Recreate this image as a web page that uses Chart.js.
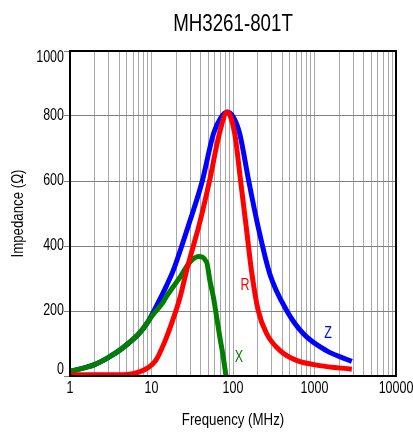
<!DOCTYPE html>
<html>
<head>
<meta charset="utf-8">
<script src="https://cdn.jsdelivr.net/npm/chart.js@4.4.1/dist/chart.umd.min.js"></script>
<style>
  html, body { margin: 0; padding: 0; background: #fff; }
</style>
</head>
<body>
<canvas id="impChart" width="413" height="432"></canvas>
<script>
const FONT = '"Liberation Sans", Arial, sans-serif';
const SQUEEZE = 0.78; // the original uses a condensed face

const chartTitle = 'MH3261-801T';
const xAxisTitle = 'Frequency (MHz)';
const yAxisTitle = 'Impedance (Ω)';

// Z curve (MHz / ohm)
const zFreq = [1, 2, 3, 4, 5, 7, 9, 10, 13.5, 15.3, 18.5, 23.5, 28.3, 42, 57.5, 71, 85, 102, 121, 156, 203, 283, 457, 731, 1400, 2870];
const zValues = [14, 35, 58, 78, 97, 130, 166, 186, 250, 278, 325, 400, 462, 600, 745, 795, 812, 795, 745, 600, 460, 314, 201, 130, 78, 45];

// R curve
const rFreq = [1, 3, 5, 7, 9, 11.3, 14.5, 18, 22.4, 27, 32.6, 38, 51.5, 68, 85, 105, 124, 147, 169, 204, 259, 378, 600, 1160, 2870];
const rValues = [4, 4, 5, 12, 25, 48, 105, 168, 242, 325, 400, 460, 600, 745, 812, 745, 600, 448, 322, 201, 130, 78, 48, 32, 21];

// X curve
const xFreq = [1, 2, 3, 4, 5, 6, 7, 8, 9, 10, 13.7, 15.3, 22.4, 29.5, 37.6, 47.5, 52, 57.5, 63, 69, 76, 82];
const xValues = [14, 35, 58, 78, 97, 114, 130, 148, 166, 183, 225, 245, 304, 350, 368, 350, 294, 242, 181, 119, 58, 0];

// axes
const xDecades = [1, 10, 100, 1000, 10000];
const xTickLabels = ['1', '10', '100', '1000', '10000'];
const xMinorSteps = [1, 2, 3, 4, 5, 6, 7, 8, 9];
const yTicks = [0, 200, 400, 600, 800, 1000];
const yTickLabels = ['0', '200', '400', '600', '800', '1000'];

// curve names written on the plot
const curveNames = ['Z', 'R', 'X'];
const curveNameFreq = [1465, 140, 118];
const curveNameImp = [131, 278, 57];
const curveColors = ['#0000ff', '#ff0000', '#007f00'];

function toPoints(fs, vs) {
  return fs.map((f, i) => ({ x: f, y: vs[i] }));
}

// narrow text: squeeze horizontally around the anchor point
function narrowText(ctx, text, x, y, size, color, align, rotate) {
  ctx.save();
  ctx.translate(x, y);
  if (rotate) ctx.rotate(rotate);
  ctx.scale(SQUEEZE, 1);
  ctx.font = size + 'px ' + FONT;
  ctx.fillStyle = color;
  ctx.textAlign = align;
  ctx.fillText(text, 0, 0);
  ctx.restore();
}

// frame, all labels and curve names
const extrasPlugin = {
  id: 'extras',
  afterDraw(chart) {
    const { ctx, chartArea: a, scales } = chart;
    const midX = (a.left + a.right) / 2;
    const midY = (a.top + a.bottom) / 2;
    ctx.save();
    ctx.strokeStyle = '#000';
    ctx.lineWidth = 2;
    ctx.strokeRect(a.left, a.top, a.right - a.left, a.bottom - a.top);

    ctx.textBaseline = 'alphabetic';
    narrowText(ctx, chartTitle, midX, 31, 24, '#000', 'center');

    ctx.textBaseline = 'middle';
    yTicks.forEach((v, i) => {
      let y = scales.y.getPixelForValue(v);
      y = Math.min(Math.max(y, a.top + 7), a.bottom - 6);
      narrowText(ctx, yTickLabels[i], a.left - 6, y, 16, '#000', 'right');
    });

    ctx.textBaseline = 'alphabetic';
    xDecades.forEach((v, i) => {
      narrowText(ctx, xTickLabels[i], scales.x.getPixelForValue(v), a.bottom + 17, 16, '#000', 'center');
    });
    narrowText(ctx, xAxisTitle, midX, a.bottom + 49, 17, '#000', 'center');

    ctx.textBaseline = 'middle';
    narrowText(ctx, yAxisTitle, 18, midY, 17, '#000', 'center', -Math.PI / 2);

    curveNames.forEach((n, i) => {
      narrowText(ctx, n, scales.x.getPixelForValue(curveNameFreq[i]), scales.y.getPixelForValue(curveNameImp[i]), 16, curveColors[i], 'center');
    });
    ctx.restore();
  }
};

const ds = (label, pts, color) => ({
  label: label,
  data: pts,
  showLine: true,
  borderColor: color,
  backgroundColor: color,
  borderWidth: 5,
  pointRadius: 0,
  cubicInterpolationMode: 'monotone',
  fill: false
});

new Chart(document.getElementById('impChart'), {
  type: 'scatter',
  data: {
    datasets: [
      ds('R', toPoints(rFreq, rValues), curveColors[1]),
      ds('X', toPoints(xFreq, xValues), curveColors[2]),
      ds('Z', toPoints(zFreq, zValues), curveColors[0])
    ]
  },
  options: {
    responsive: false,
    animation: false,
    layout: { padding: { left: 0, right: 17, top: 51, bottom: 0 } },
    plugins: {
      legend: { display: false },
      tooltip: { enabled: false },
      title: { display: false }
    },
    scales: {
      x: {
        type: 'logarithmic',
        min: 1,
        max: 10000,
        afterBuildTicks(scale) {
          const t = [];
          xDecades.forEach(d => {
            if (d === 10000) { t.push({ value: d }); return; }
            xMinorSteps.forEach(m => t.push({ value: d * m }));
          });
          scale.ticks = t;
        },
        afterFit(scale) { scale.height = 56; },
        grid: { color: '#a8a8a8', lineWidth: 1, drawTicks: false },
        border: { display: false },
        ticks: { display: false }
      },
      y: {
        min: 0,
        max: 1000,
        afterBuildTicks(scale) {
          scale.ticks = yTicks.map(v => ({ value: v }));
        },
        afterFit(scale) { scale.width = 70; },
        grid: { color: '#808080', lineWidth: 1, tickLength: 6 },
        border: { display: false },
        ticks: { display: false }
      }
    }
  },
  plugins: [extrasPlugin]
});
</script>
</body>
</html>
